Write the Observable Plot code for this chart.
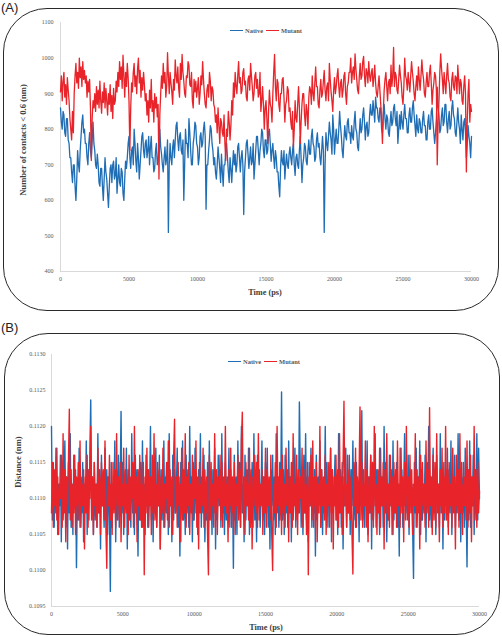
<!DOCTYPE html>
<html>
<head>
<meta charset="utf-8">
<script src="https://cdn.jsdelivr.net/npm/d3@7"></script>
<script src="https://cdn.jsdelivr.net/npm/@observablehq/plot@0.6"></script>
<style>
  html, body { margin: 0; padding: 0; background: #fff; }
  #page { position: relative; width: 502px; height: 637px; overflow: hidden; font-family: "Liberation Serif", serif; }
  .panel { position: absolute; left: 0; width: 502px; }
  .frame { position: absolute; border: 1.5px solid #2a2a2a; border-radius: 44px; pointer-events: none; z-index: 3; }
  .tag { position: absolute; font-family: "Liberation Sans", Arial, sans-serif; font-size: 13px; line-height: 13px; color: #222; z-index: 4; }
  .xt { position: absolute; font-weight: bold; font-size: 8.3px; color: #404040; transform: translateX(-50%); white-space: nowrap; z-index: 4; }
  .yt { position: absolute; font-weight: bold; font-size: 8.6px; color: #404040; transform: translate(-50%, -50%) rotate(-90deg); white-space: nowrap; z-index: 4; }
  .legend { position: absolute; font-weight: bold; font-size: 6.5px; color: #595959; display: flex; align-items: center; z-index: 4; white-space: nowrap; }
  .legend .sw { display: inline-block; width: 13px; height: 1.4px; margin-right: 2px; }
  .legend .it { display: inline-flex; align-items: center; margin-right: 3px; }
</style>
</head>
<body>
<div id="page"></div>
<script>
// ---------- data ----------
const timeMax = 30000;
const timeTicks = [0, 5000, 10000, 15000, 20000, 25000, 30000];
const contactTicks = [400, 500, 600, 700, 800, 900, 1000, 1100];
const distanceTicks = [0.1095, 0.1100, 0.1105, 0.1110, 0.1115, 0.1120, 0.1125, 0.1130];
const seriesNames = ["Native", "Mutant"];
const seriesColors = ["#1f6db4", "#e8242a"];

// (A) Number of contacts < 0.6 nm, one value every 62.5 ps (10 per row = 625 ps)
const contactsNative = [
  860, 820, 800, 850, 840, 790, 780, 830, 830, 770,
  760, 720, 720, 680, 650, 700, 700, 640, 600, 660,
  740, 700, 680, 740, 780, 820, 840, 790, 800, 760,
  760, 720, 700, 760, 790, 740, 720, 770, 820, 760,
  740, 700, 690, 730, 700, 650, 640, 690, 690, 640,
  600, 660, 720, 680, 660, 620, 580, 640, 690, 700,
  650, 700, 710, 660, 670, 720, 620, 660, 700, 650,
  640, 690, 680, 620, 600, 660, 710, 690, 720, 760,
  780, 720, 690, 740, 750, 700, 800, 760, 710, 680,
  760, 720, 660, 700, 740, 780, 790, 740, 720, 760,
  770, 720, 740, 780, 700, 750, 780, 720, 720, 680,
  690, 740, 760, 700, 710, 760, 800, 750, 730, 700,
  680, 720, 750, 700, 720, 770, 510, 700, 760, 720,
  700, 750, 770, 720, 770, 810, 820, 770, 740, 780,
  790, 740, 730, 770, 600, 700, 800, 760, 760, 720,
  830, 790, 740, 700, 700, 760, 780, 820, 810, 760,
  750, 700, 720, 780, 790, 750, 760, 800, 820, 780,
  575, 700, 700, 740, 770, 810, 800, 760, 740, 700,
  720, 680, 660, 700, 750, 720, 690, 650, 730, 680,
  640, 700, 700, 740, 760, 720, 680, 650, 720, 690,
  650, 700, 740, 700, 730, 680, 700, 750, 760, 720,
  680, 720, 740, 700, 560, 680, 720, 760, 770, 730,
  690, 720, 750, 700, 710, 760, 660, 700, 740, 780,
  780, 740, 700, 740, 760, 800, 790, 740, 720, 770,
  770, 730, 740, 790, 800, 760, 710, 740, 760, 720,
  690, 740, 720, 680, 680, 640, 610, 690, 740, 710,
  700, 740, 660, 700, 730, 700, 690, 730, 750, 720,
  700, 740, 760, 700, 670, 720, 730, 700, 690, 740,
  780, 720, 650, 700, 720, 760, 750, 710, 700, 740,
  770, 730, 730, 780, 800, 760, 750, 710, 720, 770,
  790, 750, 760, 720, 700, 740, 780, 740, 510, 700,
  790, 760, 740, 780, 820, 790, 770, 730, 840, 800,
  730, 770, 800, 760, 760, 800, 850, 810, 780, 740,
  720, 770, 810, 780, 770, 820, 830, 790, 790, 760,
  810, 780, 770, 820, 850, 800, 790, 750, 740, 790,
  830, 790, 800, 840, 860, 820, 770, 810, 820, 780,
  790, 840, 870, 840, 840, 880, 850, 820, 890, 860,
  860, 830, 820, 860, 860, 800, 790, 840, 870, 830,
  800, 840, 830, 790, 780, 820, 850, 810, 820, 860,
  870, 830, 810, 850, 760, 800, 840, 800, 850, 820,
  800, 840, 870, 830, 830, 790, 790, 840, 860, 820,
  820, 860, 880, 840, 810, 780, 840, 800, 790, 830,
  820, 790, 790, 830, 850, 810, 810, 770, 770, 820,
  840, 800, 800, 850, 860, 820, 790, 760, 790, 830,
  918, 860, 840, 790, 800, 840, 860, 810, 820, 870,
  870, 820, 790, 830, 850, 800, 810, 860, 880, 840,
  830, 790, 780, 820, 860, 820, 800, 760, 840, 800,
  770, 820, 830, 790, 720, 760, 810, 780, 760, 720,
  780
];
const contactsMutant = [
  905, 950, 880, 935, 960, 890, 925, 870, 945, 910,
  880, 830, 800, 770, 850, 790, 900, 950, 985, 930,
  960, 915, 1000, 945, 975, 920, 990, 940, 965, 930,
  950, 890, 935, 905, 940, 860, 712, 830, 880, 860,
  900, 850, 920, 870, 910, 860, 935, 880, 845, 905,
  875, 930, 860, 915, 880, 840, 900, 870, 925, 850,
  895, 830, 915, 870, 880, 935, 905, 960, 920, 990,
  940, 975, 915, 1008, 950, 890, 960, 920, 985, 945,
  880, 740, 860, 930, 905, 960, 985, 920, 950, 900,
  970, 1000, 930, 965, 890, 945, 910, 960, 925, 880,
  900, 840, 880, 820, 910, 860, 940, 850, 880, 820,
  900, 860, 890, 835, 870, 660, 840, 900, 950, 915,
  985, 930, 960, 890, 920, 1015, 950, 900, 960, 930,
  905, 870, 940, 910, 995, 950, 930, 975, 915, 890,
  985, 940, 1010, 960, 935, 900, 890, 950, 945, 990,
  980, 925, 920, 960, 880, 860, 940, 905, 935, 890,
  915, 945, 870, 900, 950, 925, 990, 940, 900, 870,
  860, 910, 925, 890, 960, 935, 880, 920, 910, 870,
  860, 820, 840, 790, 860, 810, 760, 830, 820, 790,
  780, 840, 760, 712, 800, 780, 850, 820, 770, 810,
  880, 840, 930, 890, 960, 920, 900, 950, 990, 930,
  945, 900, 910, 960, 970, 925, 935, 890, 880, 940,
  950, 910, 985, 950, 920, 880, 900, 950, 960, 915,
  940, 890, 900, 960, 850, 880, 920, 870, 800, 860,
  880, 830, 760, 850, 910, 870, 860, 820, 900, 960,
  1010, 920, 880, 940, 930, 870, 850, 900, 900, 940,
  945, 890, 820, 870, 880, 920, 910, 850, 860, 820,
  800, 850, 750, 800, 880, 830, 820, 870, 920, 860,
  760, 820, 870, 900, 900, 840, 810, 870, 850, 800,
  890, 920, 910, 870, 950, 900, 880, 930, 975, 920,
  920, 870, 860, 910, 940, 890, 900, 935, 965, 910,
  880, 920, 930, 880, 985, 940, 905, 880, 850, 910,
  945, 900, 920, 950, 970, 920, 890, 930, 940, 890,
  910, 950, 960, 900, 870, 920, 930, 960, 960, 1000,
  930, 960, 975, 940, 1012, 970, 940, 910, 900, 950,
  985, 940, 950, 990, 1005, 950, 920, 970, 960, 930,
  990, 950, 935, 960, 970, 920, 945, 980, 930, 900,
  890, 920, 950, 910, 870, 820, 760, 850, 910, 940,
  960, 920, 880, 930, 940, 900, 980, 920, 950, 1030,
  920, 960, 950, 910, 900, 940, 980, 950, 930, 890,
  870, 920, 1000, 950, 940, 910, 960, 930, 905, 950,
  990, 960, 935, 900, 880, 920, 950, 910, 975, 940,
  910, 950, 995, 960, 940, 900, 890, 930, 960, 920,
  920, 960, 980, 930, 870, 910, 930, 960, 950, 910,
  700, 820, 880, 960, 1012, 970, 940, 900, 960, 930,
  900, 950, 985, 940, 930, 890, 880, 940, 960, 920,
  910, 950, 945, 900, 980, 940, 900, 940, 930, 880,
  870, 920, 950, 900, 680, 820, 900, 940, 820, 870,
  850
];

// (B) Distance (nm), one value every 62.5 ps (10 per row = 625 ps)
const distanceNative = [
  0.11200, 0.11070, 0.11150, 0.11060, 0.11130, 0.11080, 0.11170, 0.11050, 0.11120, 0.11090,
  0.11160, 0.11040, 0.11140, 0.11070, 0.11110, 0.11180, 0.11060, 0.11130, 0.11030, 0.11150,
  0.11080, 0.11190, 0.11060, 0.11120, 0.11050, 0.11160, 0.11090, 0.11140, 0.11004, 0.11110,
  0.11070, 0.11170, 0.11060, 0.11130, 0.11080, 0.11150, 0.11040, 0.11120, 0.11090, 0.11180,
  0.11050, 0.11140, 0.11070, 0.11160, 0.11237, 0.11080, 0.11130, 0.11050, 0.11150, 0.11070,
  0.11120, 0.11060, 0.11190, 0.11080, 0.11140, 0.11030, 0.11160, 0.11090, 0.11110, 0.11060,
  0.11170, 0.11070, 0.11140, 0.11050, 0.11130, 0.11080, 0.10971, 0.11150, 0.11060, 0.11120,
  0.11090, 0.11180, 0.11040, 0.11140, 0.11070, 0.11160, 0.11060, 0.11120, 0.11221, 0.11080,
  0.11150, 0.11050, 0.11130, 0.11090, 0.11170, 0.11030, 0.11140, 0.11070, 0.11110, 0.11060,
  0.11190, 0.11080, 0.11120, 0.11050, 0.11160, 0.11090, 0.11140, 0.11020, 0.11130, 0.11070,
  0.11150, 0.11060, 0.11180, 0.11080, 0.11120, 0.11050, 0.11160, 0.11090, 0.11140, 0.11060,
  0.11110, 0.11200, 0.11070, 0.11130, 0.11040, 0.11150, 0.11080, 0.11170, 0.11060, 0.11120,
  0.11090, 0.11160, 0.11030, 0.11140, 0.11070, 0.11110, 0.11180, 0.11060, 0.11130, 0.11080,
  0.11150, 0.11050, 0.11190, 0.11090, 0.11120, 0.11040, 0.11160, 0.11070, 0.11140, 0.11080,
  0.11110, 0.11170, 0.11060, 0.11130, 0.11020, 0.11150, 0.11090, 0.11180, 0.11070, 0.11120,
  0.11050, 0.11160, 0.11080, 0.11140, 0.11060, 0.11200, 0.11090, 0.11130, 0.11040, 0.11150,
  0.11070, 0.11170, 0.11080, 0.11120, 0.11050, 0.11140, 0.11090, 0.11190, 0.11060, 0.11130,
  0.11080, 0.11160, 0.11040, 0.11110, 0.11070, 0.11150, 0.11060, 0.11180, 0.11090, 0.11120,
  0.11050, 0.11140, 0.11080, 0.11170, 0.11030, 0.11130, 0.11070, 0.11160, 0.11090, 0.11140,
  0.11060, 0.11190, 0.11080, 0.11120, 0.11050, 0.11150, 0.11070, 0.11130, 0.11090, 0.11170,
  0.11060, 0.11140, 0.11080, 0.11110, 0.11003, 0.11160, 0.11070, 0.11130, 0.11050, 0.11180,
  0.11090, 0.11150, 0.11060, 0.11200, 0.11080, 0.11120, 0.11040, 0.11160, 0.11070, 0.11140,
  0.11090, 0.11170, 0.11050, 0.11130, 0.11080, 0.11150, 0.11060, 0.11190, 0.11070, 0.11120,
  0.11040, 0.11160, 0.11090, 0.11140, 0.11060, 0.11110, 0.11180, 0.11070, 0.11130, 0.11050,
  0.11150, 0.11080, 0.11170, 0.11060, 0.11120, 0.11030, 0.11140, 0.11090, 0.11160, 0.11070,
  0.11130, 0.11050, 0.11190, 0.11080, 0.11120, 0.11060, 0.11150, 0.11090, 0.11248, 0.11070,
  0.11140, 0.11050, 0.11160, 0.11080, 0.11120, 0.11060, 0.11180, 0.11090, 0.11130, 0.11040,
  0.11150, 0.11070, 0.11110, 0.11170, 0.11060, 0.11130, 0.11090, 0.11080, 0.11234, 0.11140,
  0.11060, 0.11120, 0.11050, 0.11160, 0.11080, 0.11190, 0.11070, 0.11130, 0.11040, 0.11150,
  0.11090, 0.11170, 0.11060, 0.11120, 0.11080, 0.11140, 0.11020, 0.11160, 0.11070, 0.11130,
  0.11090, 0.11180, 0.11060, 0.11140, 0.11050, 0.11120, 0.11080, 0.11200, 0.11070, 0.11150,
  0.11060, 0.11130, 0.11090, 0.11170, 0.11040, 0.11140, 0.11080, 0.11110, 0.11160, 0.11070,
  0.11120, 0.11050, 0.11190, 0.11080, 0.11140, 0.11060, 0.11150, 0.11030, 0.11130, 0.11090,
  0.11170, 0.11060, 0.11120, 0.11080, 0.11160, 0.11050, 0.11140, 0.11090, 0.11180, 0.11070,
  0.11130, 0.11060, 0.11150, 0.11080, 0.11120, 0.11040, 0.11170, 0.11090, 0.11222, 0.11070,
  0.11140, 0.11060, 0.11120, 0.11090, 0.11180, 0.11050, 0.11130, 0.11080, 0.11160, 0.11030,
  0.11150, 0.11070, 0.11110, 0.11190, 0.11060, 0.11140, 0.11080, 0.11120, 0.11050, 0.11170,
  0.11090, 0.11130, 0.11060, 0.11200, 0.11080, 0.11150, 0.11040, 0.11120, 0.11070, 0.11160,
  0.11090, 0.11140, 0.11050, 0.11180, 0.11070, 0.11130, 0.11080, 0.11150, 0.11060, 0.11120,
  0.11020, 0.11170, 0.11090, 0.11140, 0.11060, 0.11110, 0.11190, 0.11070, 0.11130, 0.11080,
  0.11160, 0.11050, 0.11140, 0.11090, 0.11120, 0.11060, 0.10989, 0.11150, 0.11080, 0.11170,
  0.11060, 0.11130, 0.11090, 0.11180, 0.11050, 0.11140, 0.11070, 0.11120, 0.11080, 0.11160,
  0.11040, 0.11150, 0.11090, 0.11200, 0.11070, 0.11130, 0.11060, 0.11110, 0.11170, 0.11080,
  0.11140, 0.11050, 0.11160, 0.11090, 0.11120, 0.11060, 0.11190, 0.11080, 0.11130, 0.11030,
  0.11150, 0.11070, 0.11120, 0.11090, 0.11170, 0.11060, 0.11140, 0.11080, 0.11180, 0.11050,
  0.11130, 0.11090, 0.11160, 0.11060, 0.11120, 0.11080, 0.11190, 0.11070, 0.11140, 0.11040,
  0.11150, 0.11080, 0.11130, 0.11060, 0.11170, 0.11090, 0.11005, 0.11140, 0.11070, 0.11180,
  0.11060, 0.11130, 0.11090, 0.11160, 0.11050, 0.11140, 0.11080, 0.11190, 0.11070, 0.11170,
  0.11100
];
const distanceMutant = [
  0.11080, 0.11150, 0.11060, 0.11140, 0.11090, 0.11170, 0.11070, 0.11130, 0.11050, 0.11120,
  0.11100, 0.11160, 0.11060, 0.11190, 0.11080, 0.11140, 0.11040, 0.11130, 0.11090, 0.11150,
  0.11224, 0.11070, 0.11140, 0.11060, 0.11120, 0.11080, 0.11160, 0.11050, 0.11130, 0.11090,
  0.11150, 0.11070, 0.11180, 0.11060, 0.11120, 0.11090, 0.11140, 0.11030, 0.11130, 0.11080,
  0.11160, 0.11060, 0.11140, 0.11100, 0.11200, 0.11070, 0.11130, 0.11050, 0.11150, 0.11090,
  0.11120, 0.11060, 0.11170, 0.11080, 0.11130, 0.11050, 0.11150, 0.11090, 0.11140, 0.11070,
  0.11180, 0.11060, 0.11003, 0.11130, 0.11090, 0.11160, 0.11070, 0.11120, 0.11050, 0.11150,
  0.11080, 0.11140, 0.11060, 0.11190, 0.11090, 0.11130, 0.11070, 0.11150, 0.11040, 0.11120,
  0.11090, 0.11170, 0.11060, 0.11140, 0.11080, 0.11120, 0.11050, 0.11160, 0.11070, 0.11130,
  0.11100, 0.11150, 0.11060, 0.11200, 0.11080, 0.11130, 0.11040, 0.11140, 0.11090, 0.11160,
  0.11070, 0.11120, 0.11060, 0.11150, 0.10994, 0.11130, 0.11080, 0.11170, 0.11060, 0.11140,
  0.11090, 0.11130, 0.11050, 0.11160, 0.11080, 0.11190, 0.11070, 0.11120, 0.11060, 0.11150,
  0.11090, 0.11140, 0.11030, 0.11130, 0.11080, 0.11170, 0.11060, 0.11120, 0.11100, 0.11150,
  0.11070, 0.11180, 0.11060, 0.11140, 0.11090, 0.11130, 0.11050, 0.11160, 0.11210, 0.11080,
  0.11130, 0.11060, 0.11150, 0.11090, 0.11120, 0.11040, 0.11170, 0.11070, 0.11140, 0.11080,
  0.11190, 0.11060, 0.11130, 0.11090, 0.11150, 0.11050, 0.11120, 0.11080, 0.11160, 0.11070,
  0.11140, 0.11100, 0.11180, 0.11060, 0.11130, 0.11030, 0.11150, 0.11080, 0.11120, 0.11090,
  0.11170, 0.11060, 0.11140, 0.11080, 0.11130, 0.11050, 0.10994, 0.11160, 0.11070, 0.11150,
  0.11090, 0.11120, 0.11060, 0.11190, 0.11080, 0.11140, 0.11050, 0.11130, 0.11100, 0.11160,
  0.11070, 0.11150, 0.11060, 0.11130, 0.11090, 0.11200, 0.11080, 0.11120, 0.11040, 0.11140,
  0.11090, 0.11170, 0.11060, 0.11130, 0.11080, 0.11150, 0.11050, 0.11120, 0.11090, 0.11160,
  0.11070, 0.11140, 0.11060, 0.11180, 0.11220, 0.11080, 0.11130, 0.11050, 0.11150, 0.11090,
  0.11120, 0.11070, 0.11170, 0.11060, 0.11140, 0.11030, 0.11130, 0.11090, 0.11160, 0.11080,
  0.11150, 0.11060, 0.11190, 0.11070, 0.11120, 0.11090, 0.11140, 0.11050, 0.11130, 0.11080,
  0.11170, 0.11060, 0.11140, 0.11090, 0.11130, 0.11070, 0.11160, 0.11050, 0.11000, 0.11120,
  0.11080, 0.11150, 0.11060, 0.11200, 0.11090, 0.11130, 0.11070, 0.11140, 0.11050, 0.11160,
  0.11080, 0.11120, 0.11060, 0.11170, 0.11090, 0.11140, 0.11040, 0.11130, 0.11080, 0.11150,
  0.11060, 0.11190, 0.11090, 0.11120, 0.11070, 0.11160, 0.11050, 0.11140, 0.11080, 0.11130,
  0.11100, 0.11170, 0.11060, 0.11140, 0.11080, 0.11120, 0.11050, 0.11150, 0.10994, 0.11130,
  0.11090, 0.11160, 0.11070, 0.11180, 0.11060, 0.11130, 0.11090, 0.11150, 0.11040, 0.11120,
  0.11080, 0.11200, 0.11060, 0.11140, 0.11090, 0.11130, 0.11070, 0.11160, 0.11050, 0.11120,
  0.11090, 0.11150, 0.11060, 0.11170, 0.11080, 0.11140, 0.11030, 0.11130, 0.11090, 0.11160,
  0.11070, 0.11140, 0.11060, 0.11190, 0.11080, 0.11130, 0.11050, 0.11150, 0.11235, 0.11090,
  0.11120, 0.11060, 0.11160, 0.11080, 0.11140, 0.11070, 0.11130, 0.11050, 0.10995, 0.11150,
  0.11090, 0.11170, 0.11060, 0.11130, 0.11080, 0.11140, 0.11227, 0.11070, 0.11150, 0.11060,
  0.11120, 0.11090, 0.11180, 0.11060, 0.11140, 0.11040, 0.11130, 0.11080, 0.11160, 0.11070,
  0.11150, 0.11060, 0.11200, 0.11090, 0.11120, 0.11050, 0.11140, 0.11080, 0.11170, 0.11060,
  0.11130, 0.11090, 0.11150, 0.11030, 0.11140, 0.11080, 0.11190, 0.11070, 0.11120, 0.11060,
  0.11160, 0.11090, 0.11130, 0.11050, 0.11150, 0.11080, 0.11140, 0.11060, 0.11180, 0.11090,
  0.11120, 0.11060, 0.11170, 0.11080, 0.11130, 0.11040, 0.11150, 0.11090, 0.11200, 0.11070,
  0.11130, 0.11060, 0.11160, 0.11080, 0.11140, 0.11050, 0.11120, 0.11090, 0.11190, 0.11060,
  0.11140, 0.11080, 0.11130, 0.11030, 0.11160, 0.11070, 0.11150, 0.11090, 0.11120, 0.11060,
  0.11180, 0.11080, 0.11140, 0.11060, 0.11226, 0.11090, 0.11130, 0.11050, 0.11160, 0.11070,
  0.11150, 0.11060, 0.11190, 0.11080, 0.11120, 0.11040, 0.11140, 0.11090, 0.11170, 0.11060,
  0.11130, 0.11080, 0.11200, 0.11070, 0.11140, 0.11050, 0.11150, 0.11090, 0.11120, 0.11060,
  0.11170, 0.11080, 0.11130, 0.11030, 0.11160, 0.11090, 0.11140, 0.11060, 0.11190, 0.11080,
  0.11120, 0.11050, 0.11150, 0.11090, 0.11130, 0.11070, 0.11180, 0.11060, 0.11140, 0.11080,
  0.11160, 0.11040, 0.11130, 0.11090, 0.11200, 0.11070, 0.11140, 0.11060, 0.11150, 0.11080,
  0.11110
];

// ---------- helpers ----------
const toRows = (vals) => vals.map((v, i) => ({t: i * timeMax / (vals.length - 1), v}));
const page = document.getElementById("page");

function el(tag, cls, css, html) {
  const e = document.createElement(tag);
  if (cls) e.className = cls;
  Object.assign(e.style, css || {});
  if (html != null) e.innerHTML = html;
  return e;
}

function panel(cfg) {
  const wrap = el("div", "panel", {top: cfg.top + "px", height: cfg.height + "px"});
  page.appendChild(wrap);
  const chart = Plot.plot({
    width: 502,
    height: cfg.height,
    marginLeft: cfg.ml, marginRight: cfg.mr, marginTop: cfg.mt, marginBottom: cfg.mb,
    style: {background: "transparent", fontFamily: "Liberation Serif, serif", fontSize: "6px", color: "#595959", overflow: "visible"},
    x: {domain: [0, timeMax]},
    y: {domain: cfg.yDomain},
    marks: [
      Plot.ruleX([0], {stroke: "#d9d9d9", strokeWidth: 1}),
      Plot.ruleY([cfg.yDomain[0]], {stroke: "#d9d9d9", strokeWidth: 1.2}),
      Plot.axisX({ticks: timeTicks, tickSize: 0, tickPadding: 5, label: null, tickFormat: d3.format("d"), fill: "#595959"}),
      Plot.axisY({ticks: cfg.yTicks, tickSize: 0, tickPadding: cfg.yPad, label: null, tickFormat: cfg.yFormat, fill: "#595959"}),
      Plot.line(toRows(cfg.native), {x: "t", y: "v", stroke: seriesColors[0], strokeWidth: cfg.sw}),
      Plot.line(toRows(cfg.mutant), {x: "t", y: "v", stroke: seriesColors[1], strokeWidth: cfg.sw})
    ]
  });
  chart.style.position = "absolute";
  chart.style.left = "0px";
  chart.style.top = "0px";
  wrap.appendChild(chart);

  wrap.appendChild(el("div", "frame", {left: cfg.frame[0] + "px", top: cfg.frame[1] + "px", width: cfg.frame[2] + "px", height: cfg.frame[3] + "px"}));
  wrap.appendChild(el("div", "tag", {left: "1px", top: cfg.tagTop + "px"}, cfg.tag));
  wrap.appendChild(el("div", "xt", {left: cfg.xtX + "px", top: cfg.xtY + "px"}, "Time (ps)"));
  wrap.appendChild(el("div", "yt", {left: cfg.ytX + "px", top: cfg.ytY + "px"}, cfg.yTitle));

  const leg = el("div", "legend", {left: cfg.legX + "px", top: cfg.legY + "px"});
  seriesNames.forEach((n, i) => {
    const it = el("span", "it");
    it.appendChild(el("span", "sw", {background: seriesColors[i]}));
    it.appendChild(el("span", null, {}, n));
    leg.appendChild(it);
  });
  wrap.appendChild(leg);
}

panel({
  top: 0, height: 320, ml: 60, mr: 31, mt: 22, mb: 49,
  yDomain: [400, 1100], yTicks: contactTicks, yFormat: d3.format("d"), yPad: 7,
  native: contactsNative, mutant: contactsMutant, sw: 1.3,
  frame: [3, 8, 494, 301], tag: "(A)", tagTop: 1,
  xtX: 265, xtY: 288, ytX: 23, ytY: 140, yTitle: "Number of contacts &lt; 0.6 (nm)",
  legX: 230, legY: 27
});

panel({
  top: 320, height: 317, ml: 51, mr: 23, mt: 34, mb: 31,
  yDomain: [0.1095, 0.1130], yTicks: distanceTicks, yFormat: d3.format(".4f"), yPad: 6,
  native: distanceNative, mutant: distanceMutant, sw: 1.4,
  frame: [4, 13, 494, 300], tag: "(B)", tagTop: 1,
  xtX: 266, xtY: 303, ytX: 18, ytY: 142, yTitle: "Distance (nm)",
  legX: 228, legY: 38
});
</script>
</body>
</html>
